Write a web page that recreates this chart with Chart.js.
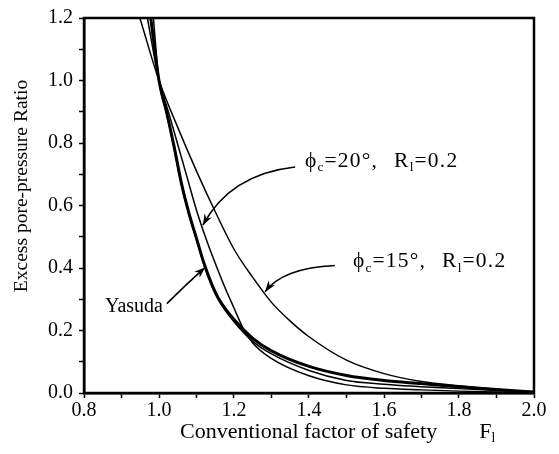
<!DOCTYPE html>
<html>
<head>
<meta charset="utf-8">
<script src="https://cdn.jsdelivr.net/npm/chart.js@4/dist/chart.umd.min.js"></script>
<style>
  html, body { margin: 0; padding: 0; background: #fff; }
</style>
</head>
<body>
<canvas id="chart" width="559" height="454"></canvas>
<script>
// curves: factor of safety F vs excess pore-pressure ratio
const yasudaF = [0.978, 1.0, 1.02, 1.04, 1.06, 1.08, 1.10, 1.12, 1.14, 1.16, 1.2, 1.25, 1.3, 1.4, 1.5, 1.6, 1.7, 1.8, 1.9, 2.0];
const yasudaR = [1.2, 1.0, 0.90, 0.79, 0.67, 0.575, 0.495, 0.415, 0.35, 0.30, 0.235, 0.175, 0.135, 0.085, 0.056, 0.04, 0.03, 0.02, 0.011, 0.003];

const phi20F = [0.969, 1.0, 1.025, 1.05, 1.075, 1.1, 1.125, 1.15, 1.175, 1.2, 1.225, 1.25, 1.3, 1.4, 1.5, 1.6, 1.7, 1.8, 1.9, 2.0];
const phi20R = [1.2, 1.0, 0.9, 0.795, 0.69, 0.585, 0.495, 0.415, 0.34, 0.272, 0.205, 0.16, 0.11, 0.055, 0.026, 0.015, 0.01, 0.006, 0.003, 0.001];

const phi15F = [0.949, 1.0, 1.05, 1.1, 1.15, 1.2, 1.25, 1.3, 1.35, 1.4, 1.5, 1.6, 1.7, 1.8, 1.9, 2.0];
const phi15R = [1.2, 1.0, 0.85, 0.71, 0.58, 0.46, 0.37, 0.29, 0.23, 0.18, 0.105, 0.062, 0.037, 0.023, 0.012, 0.003];

const otherF = [0.985, 1.0, 1.02, 1.04, 1.06, 1.08, 1.10, 1.12, 1.14, 1.16, 1.2, 1.25, 1.3, 1.4, 1.5, 1.6, 1.7, 1.8, 1.9, 2.0];
const otherR = [1.2, 1.0, 0.895, 0.785, 0.665, 0.57, 0.49, 0.41, 0.345, 0.295, 0.228, 0.165, 0.125, 0.072, 0.04, 0.028, 0.02, 0.014, 0.008, 0.002];

const xRange = [0.8, 2.0];
const yRange = [0, 1.2];

// annotation anchors in data units
const label20 = { x: 1.389, y: 0.723 };
const arrow20 = [[1.363, 0.723], [1.19, 0.70], [1.117, 0.537]];
const label15 = { x: 1.517, y: 0.402 };
const arrow15 = [[1.469, 0.408], [1.33, 0.40], [1.283, 0.324]];
const labelYasuda = { x: 0.856, y: 0.258 };
const arrowYasuda = [[1.021, 0.286], [1.07, 0.345], [1.123, 0.402]];

const serif = '"Liberation Serif", "Times New Roman", serif';

function pts(xs, ys) {
    return xs.map((x, i) => ({ x: x, y: ys[i] }));
}

function rich(ctx, x, y, parts, size, spacing) {
    let cx = x;
    ctx.textAlign = 'left';
    ctx.textBaseline = 'alphabetic';
    ctx.letterSpacing = (spacing || 0) + 'px';
    for (const p of parts) {
        const s = p.sub ? size * 0.62 : size;
        ctx.font = `${s}px ${serif}`;
        if (p.gap) { cx += p.gap; continue; }
        ctx.fillText(p.t, cx, y + (p.sub ? size * 0.2 : 0));
        cx += ctx.measureText(p.t).width;
    }
    ctx.letterSpacing = '0px';
}

function arrow(ctx, chart, a) {
    const sx = chart.scales.x, sy = chart.scales.y;
    const p = a.map(q => [sx.getPixelForValue(q[0]), sy.getPixelForValue(q[1])]);
    ctx.beginPath();
    ctx.moveTo(p[0][0], p[0][1]);
    ctx.quadraticCurveTo(p[1][0], p[1][1], p[2][0], p[2][1]);
    ctx.lineWidth = 1.6;
    ctx.strokeStyle = '#000';
    ctx.stroke();
    const ang = Math.atan2(p[2][1] - p[1][1], p[2][0] - p[1][0]);
    const len = 11, w = 4;
    ctx.beginPath();
    ctx.moveTo(p[2][0], p[2][1]);
    ctx.lineTo(p[2][0] - len * Math.cos(ang) + w * Math.sin(ang), p[2][1] - len * Math.sin(ang) - w * Math.cos(ang));
    ctx.lineTo(p[2][0] - len * 0.7 * Math.cos(ang), p[2][1] - len * 0.7 * Math.sin(ang));
    ctx.lineTo(p[2][0] - len * Math.cos(ang) - w * Math.sin(ang), p[2][1] - len * Math.sin(ang) + w * Math.cos(ang));
    ctx.closePath();
    ctx.fillStyle = '#000';
    ctx.fill();
}

const decor = {
    id: 'decor',
    afterDraw(chart) {
        const ctx = chart.ctx, a = chart.chartArea;
        const sx = chart.scales.x, sy = chart.scales.y;
        ctx.save();
        // box
        ctx.strokeStyle = '#000';
        ctx.lineWidth = 2.5;
        ctx.strokeRect(a.left, a.top, a.right - a.left, a.bottom - a.top);

        ctx.fillStyle = '#000';
        // x title
        rich(ctx, 180, 438, [{ t: 'Conventional factor of safety' }, { gap: 42 }, { t: 'F' }, { t: 'l', sub: true }], 22);
        // y title
        ctx.save();
        ctx.translate(27, 186);
        ctx.rotate(-Math.PI / 2);
        ctx.font = `19.5px ${serif}`;
        ctx.textAlign = 'center';
        ctx.textBaseline = 'alphabetic';
        ctx.fillText('Excess pore-pressure Ratio', 0, 0);
        ctx.restore();

        // annotations
        const lab = deg => [{ t: 'ϕ' }, { t: 'c', sub: true }, { t: '=' + deg + '°,' }, { gap: 16 }, { t: 'R' }, { t: 'l', sub: true }, { t: '=0.2' }];
        rich(ctx, sx.getPixelForValue(label20.x), sy.getPixelForValue(label20.y), lab(20), 21.5, 1.2);
        rich(ctx, sx.getPixelForValue(label15.x), sy.getPixelForValue(label15.y), lab(15), 21.5, 1.2);
        rich(ctx, sx.getPixelForValue(labelYasuda.x), sy.getPixelForValue(labelYasuda.y), [{ t: 'Yasuda' }], 20);
        arrow(ctx, chart, arrow20);
        arrow(ctx, chart, arrow15);
        arrow(ctx, chart, arrowYasuda);
        ctx.restore();
    }
};

const thin = { borderColor: '#000', borderWidth: 1.5, pointRadius: 0, cubicInterpolationMode: 'monotone', fill: false };

new Chart(document.getElementById('chart'), {
    type: 'line',
    data: {
        datasets: [
            Object.assign({ label: 'phi15', data: pts(phi15F, phi15R) }, thin),
            Object.assign({ label: 'phi20', data: pts(phi20F, phi20R) }, thin),
            Object.assign({ label: 'other', data: pts(otherF, otherR) }, thin),
            Object.assign({ label: 'Yasuda', data: pts(yasudaF, yasudaR) }, thin, { borderWidth: 3 })
        ]
    },
    options: {
        responsive: false,
        animation: false,
        devicePixelRatio: 1,
        layout: { padding: { left: 0, right: 25, top: 11, bottom: 0 } },
        plugins: { legend: { display: false }, tooltip: { enabled: false } },
        scales: {
            x: {
                type: 'linear',
                min: xRange[0],
                max: xRange[1],
                afterFit: s => { s.height = 61; },
                ticks: {
                    stepSize: 0.1,
                    autoSkip: false,
                    maxRotation: 0,
                    padding: 1,
                    color: '#000',
                    font: { family: serif, size: 20 },
                    callback: v => Math.round(v * 10) % 2 === 0 ? v.toFixed(1) : ''
                },
                grid: { drawOnChartArea: false, tickLength: 5, color: '#000', tickWidth: 1.5 },
                border: { color: '#000', width: 2.5 }
            },
            y: {
                min: yRange[0],
                max: yRange[1],
                afterFit: s => { s.width = 84; },
                ticks: {
                    stepSize: 0.1,
                    autoSkip: false,
                    padding: 6,
                    color: '#000',
                    font: { family: serif, size: 20 },
                    callback: v => Math.round(v * 10) % 2 === 0 ? v.toFixed(1) : ''
                },
                grid: { drawOnChartArea: false, tickLength: 5, color: '#000', tickWidth: 1.5 },
                border: { color: '#000', width: 2.5 }
            }
        }
    },
    plugins: [decor]
});
</script>
</body>
</html>
